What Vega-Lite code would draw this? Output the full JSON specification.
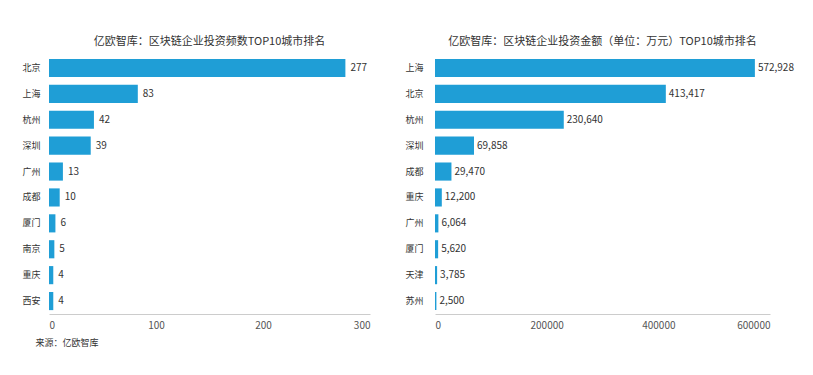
{
  "$schema": "https://vega.github.io/schema/vega-lite/v6.json",
  "background": "white",
  "padding": {"left": 21, "top": 36, "right": 5, "bottom": 5},
  "spacing": 34,
  "config": {
    "font": "Noto Sans CJK SC",
    "view": {"stroke": null},
    "title": {"fontSize": 11, "fontWeight": "normal", "color": "#333333", "offset": 8, "font": "Noto Sans CJK SC"},
    "axis": {"labelFont": "Noto Sans CJK SC", "titleFont": "Noto Sans CJK SC"}
  },
  "datasets": {
    "freq": [
      {"city": "北京", "value": 277},
      {"city": "上海", "value": 83},
      {"city": "杭州", "value": 42},
      {"city": "深圳", "value": 39},
      {"city": "广州", "value": 13},
      {"city": "成都", "value": 10},
      {"city": "厦门", "value": 6},
      {"city": "南京", "value": 5},
      {"city": "重庆", "value": 4},
      {"city": "西安", "value": 4}
    ],
    "amount": [
      {"city": "上海", "value": 572928},
      {"city": "北京", "value": 413417},
      {"city": "杭州", "value": 230640},
      {"city": "深圳", "value": 69858},
      {"city": "成都", "value": 29470},
      {"city": "重庆", "value": 12200},
      {"city": "广州", "value": 6064},
      {"city": "厦门", "value": 5620},
      {"city": "天津", "value": 3785},
      {"city": "苏州", "value": 2500}
    ]
  },
  "hconcat": [
    {
      "title": "亿欧智库：区块链企业投资频数TOP10城市排名",
      "width": 321,
      "height": 259,
      "data": {"name": "freq"},
      "encoding": {
        "y": {
          "field": "city", "type": "nominal",
          "sort": ["北京", "上海", "杭州", "深圳", "广州", "成都", "厦门", "南京", "重庆", "西安"],
          "scale": {"paddingInner": 0.3, "paddingOuter": 0.15},
          "axis": {"title": null, "domain": false, "ticks": false, "labelFontSize": 9, "labelColor": "#333333", "labelPadding": 9}
        },
        "x": {
          "field": "value", "type": "quantitative",
          "scale": {"domain": [0, 300]},
          "axis": {
            "values": [0, 100, 200, 300], "grid": false, "ticks": false,
            "domainColor": "#cccccc", "labelFontSize": 10, "labelColor": "#555555", "labelPadding": 6,
            "title": "来源：亿欧智库", "titleFontSize": 9, "titleFontWeight": "normal", "titleColor": "#333333",
            "titleAnchor": "start", "titleAlign": "left", "titleX": -14, "titleY": 24
          }
        }
      },
      "layer": [
        {"mark": {"type": "bar", "color": "#1f9ed6"}},
        {"mark": {"type": "text", "align": "left", "dx": 5, "fontSize": 10, "color": "#333333"},
         "encoding": {"text": {"field": "value", "type": "quantitative", "format": "d"}}}
      ]
    },
    {
      "title": "亿欧智库：区块链企业投资金额（单位：万元）TOP10城市排名",
      "width": 335,
      "height": 259,
      "data": {"name": "amount"},
      "encoding": {
        "y": {
          "field": "city", "type": "nominal",
          "sort": ["上海", "北京", "杭州", "深圳", "成都", "重庆", "广州", "厦门", "天津", "苏州"],
          "scale": {"paddingInner": 0.3, "paddingOuter": 0.15},
          "axis": {"title": null, "domain": false, "ticks": false, "labelFontSize": 9, "labelColor": "#333333", "labelPadding": 12}
        },
        "x": {
          "field": "value", "type": "quantitative",
          "scale": {"domain": [0, 600000]},
          "axis": {
            "values": [0, 200000, 400000, 600000], "format": "d", "grid": false, "ticks": false,
            "domainColor": "#cccccc", "labelFontSize": 10, "labelColor": "#555555", "labelPadding": 6, "title": null
          }
        }
      },
      "layer": [
        {"mark": {"type": "bar", "color": "#1f9ed6"}},
        {"mark": {"type": "text", "align": "left", "dx": 3, "fontSize": 10, "color": "#333333"},
         "encoding": {"text": {"field": "value", "type": "quantitative", "format": ","}}}
      ]
    }
  ]
}
